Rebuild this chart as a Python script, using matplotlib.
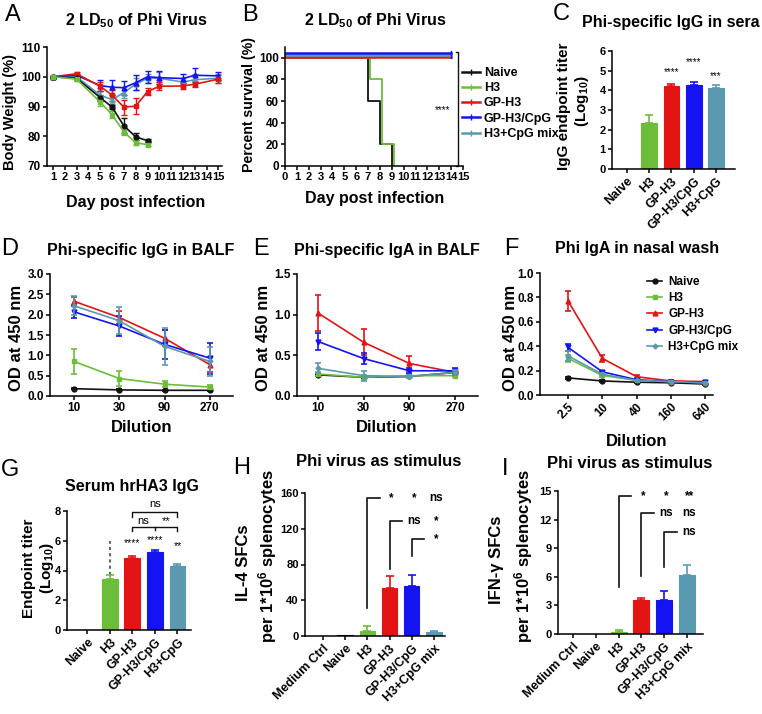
import numpy as np
import matplotlib
matplotlib.use('Agg')
import matplotlib.pyplot as plt
from matplotlib.lines import Line2D

W, H = 762, 714

# ---- data -------------------------------------------------------------
groups5 = ['Naive', 'H3', 'GP-H3', 'GP-H3/CpG', 'H3+CpG mix']
bar_groups = ['Naive', 'H3', 'GP-H3', 'GP-H3/CpG', 'H3+CpG']
stim_groups = ['Medium Ctrl', 'Naive', 'H3', 'GP-H3', 'GP-H3/CpG', 'H3+CpG mix']

# A: body weight
days_short = [1, 3, 5, 6, 7, 8, 9]
days_long = [1, 3, 5, 6, 7, 8, 9, 10, 12, 13, 15]
bw_naive = [100, 99.5, 93.0, 89.8, 83.5, 79.8, 78.5]
bw_naive_err = [0.3, 0.5, 1.0, 0.8, 2.5, 1.2, 0.5]
bw_h3 = [100, 99.2, 91.5, 87.2, 81.5, 77.8, 77.2]
bw_h3_err = [0.3, 0.6, 1.2, 1.2, 1.2, 0.8, 0.5]
bw_gph3 = [100, 101.0, 96.8, 93.8, 89.8, 90.1, 95.0, 96.8, 96.9, 97.5, 99.2]
bw_gph3_err = [0.3, 0.5, 1.5, 1.8, 2.5, 2.7, 1.3, 1.3, 1.0, 1.0, 1.3]
bw_cpg = [100, 100.5, 97.0, 96.5, 96.3, 98.0, 100.0, 99.7, 99.4, 100.5, 100.3]
bw_cpg_err = [0.3, 0.5, 1.8, 2.5, 2.3, 2.5, 2.0, 2.2, 1.5, 2.3, 1.3]
bw_mix = [100, 100.0, 93.8, 92.3, 94.7, 97.5, 99.5, 99.5, 98.2, 99.0, 99.5]
bw_mix_err = [0.3, 0.5, 1.5, 1.5, 2.0, 2.0, 1.5, 2.0, 1.5, 2.0, 1.5]

# B: survival
surv_days_naive = [0, 7, 8, 9]
surv_naive = [100, 60, 20, 0]
surv_days_h3 = [0, 7, 8, 9]
surv_h3 = [100, 80, 20, 0]
surv_days_prot = [0, 14]
surv_gph3 = [100, 100]
surv_cpg = [100, 100]
surv_mix = [100, 100]

# C: serum IgG titer
c_mean = [0, 2.35, 4.2, 4.25, 4.1]
c_err = [0, 0.42, 0.12, 0.18, 0.15]
c_stars = ['', '', '****', '****', '***']

# D/E: BALF dilutions
balf_dil = ['10', '30', '90', '270']
d_naive = [0.18, 0.15, 0.14, 0.14]
d_naive_err = [0.02, 0.01, 0.01, 0.01]
d_h3 = [0.85, 0.43, 0.29, 0.22]
d_h3_err = [0.30, 0.18, 0.07, 0.05]
d_gph3 = [2.33, 1.93, 1.42, 0.77]
d_gph3_err = [0.10, 0.15, 0.20, 0.18]
d_cpg = [2.07, 1.72, 1.27, 0.93]
d_cpg_err = [0.15, 0.25, 0.35, 0.38]
d_mix = [2.22, 1.85, 1.22, 0.85]
d_mix_err = [0.23, 0.33, 0.45, 0.35]

e_naive = [0.26, 0.23, 0.24, 0.29]
e_naive_err = [0.01, 0.01, 0.01, 0.01]
e_h3 = [0.27, 0.23, 0.25, 0.25]
e_h3_err = [0.02, 0.03, 0.02, 0.02]
e_gph3 = [1.02, 0.66, 0.40, 0.29]
e_gph3_err = [0.22, 0.16, 0.09, 0.03]
e_cpg = [0.67, 0.46, 0.31, 0.31]
e_cpg_err = [0.11, 0.07, 0.03, 0.04]
e_mix = [0.34, 0.25, 0.24, 0.29]
e_mix_err = [0.06, 0.06, 0.02, 0.03]

# F: nasal wash
nasal_dil = ['2.5', '10', '40', '160', '640']
f_naive = [0.14, 0.115, 0.105, 0.10, 0.09]
f_naive_err = [0.005, 0.005, 0.005, 0.005, 0.005]
f_h3 = [0.30, 0.16, 0.12, 0.11, 0.10]
f_h3_err = [0.03, 0.01, 0.005, 0.005, 0.005]
f_gph3 = [0.77, 0.30, 0.15, 0.115, 0.11]
f_gph3_err = [0.08, 0.03, 0.01, 0.005, 0.005]
f_cpg = [0.39, 0.19, 0.125, 0.11, 0.105]
f_cpg_err = [0.03, 0.01, 0.005, 0.005, 0.005]
f_mix = [0.32, 0.17, 0.12, 0.11, 0.10]
f_mix_err = [0.04, 0.01, 0.005, 0.005, 0.005]

# G: serum hrHA3 IgG
g_mean = [0, 3.45, 4.85, 5.27, 4.33]
g_err = [0, 0.25, 0.10, 0.12, 0.13]
g_stars = ['', '', '****', '****', '**']

# H / I: ELISpot
h_mean = [0, 0.8, 6, 54, 56, 4]
h_err = [0, 0, 5, 13, 12, 2]
i_mean = [0, 0, 0.2, 3.55, 3.55, 6.2]
i_err = [0, 0, 0.25, 0.25, 1.0, 1.0]

# ---- style ------------------------------------------------------------
plt.rcParams['font.family'] = ['Liberation Sans', 'DejaVu Sans']
plt.rcParams['font.weight'] = 'bold'
plt.rcParams['mathtext.fontset'] = 'custom'
plt.rcParams['mathtext.bf'] = 'Liberation Sans:bold'
plt.rcParams['mathtext.rm'] = 'Liberation Sans:bold'
plt.rcParams['mathtext.default'] = 'bf'
plt.rcParams['axes.linewidth'] = 1.1
for k in ['xtick', 'ytick']:
    plt.rcParams[k + '.major.width'] = 1.1
    plt.rcParams[k + '.major.size'] = 3
    plt.rcParams[k + '.major.pad'] = 1.5
    plt.rcParams[k + '.labelsize'] = 8.5

BLACK = '#111111'
GREEN = '#6CBE3A'
RED = '#E31414'
BLUE = '#1414F2'
TEAL = '#5B99B1'
colors5 = [BLACK, GREEN, RED, BLUE, TEAL]
markers5 = ['o', 's', '^', 'v', 'D']
TITLE = 11.5

fig = plt.figure(figsize=(W / 100, H / 100), dpi=100)


def add_ax(l, r, b, t):
    ax = fig.add_axes([l / W, 1 - b / H, (r - l) / W, (b - t) / H])
    ax.spines['top'].set_visible(False)
    ax.spines['right'].set_visible(False)
    return ax


def ftext(x, y, s, **kw):
    fig.text(x / W, 1 - y / H, s, ha='center', va='center', **kw)


def letter(x, y, s):
    ftext(x, y, s, fontsize=17, fontweight='normal')


def dil_panel(ax, series, errs, labels):
    x = np.arange(len(labels))
    for i, (vals, err) in enumerate(zip(series, errs)):
        ax.errorbar(x, vals, yerr=err, color=colors5[i], marker=markers5[i],
                    ms=3.5 if markers5[i] != 'D' else 2.5, lw=1.2,
                    elinewidth=1.2, capsize=2, capthick=1.2, zorder=3 + i)
    ax.set_xticks(x)
    ax.set_xticklabels(labels)


def bar_panel(ax, labels, vals, errs, cols):
    x = np.arange(len(labels))
    ax.bar(x, vals, 0.7, color=cols, edgecolor=cols, lw=0.8, zorder=2)
    for xi, v, e, c in zip(x, vals, errs, cols):
        if e > 0:
            ax.errorbar(xi, v, yerr=[[0], [e]], color=c, capsize=3,
                        elinewidth=1.2, capthick=1.2, zorder=3)
    ax.set_xticks(x)
    ax.set_xticklabels(labels, rotation=45, ha='right', rotation_mode='anchor',
                       fontsize=9)
    ax.tick_params(axis='y', labelsize=8)


# ---- A -----------------------------------------------------------------
ax = add_ax(47, 222, 166, 47)
for d, v, e, c, m in [(days_long, bw_mix, bw_mix_err, TEAL, '^'),
                      (days_long, bw_cpg, bw_cpg_err, BLUE, '^'),
                      (days_long, bw_gph3, bw_gph3_err, RED, 's'),
                      (days_short, bw_naive, bw_naive_err, BLACK, 'o'),
                      (days_short, bw_h3, bw_h3_err, GREEN, 's')]:
    ax.errorbar(d, v, yerr=e, color=c, marker=m, ms=3.5, lw=1.2,
                elinewidth=1, capsize=2, capthick=1)
ax.set_xlim(0.5, 15.3)
ax.set_ylim(70, 110)
ax.set_xticks(range(1, 16))
ax.set_yticks(range(70, 111, 10))
ax.tick_params(axis='x', labelsize=8)
ftext(136, 21, '2 LD$_{50}$ of Phi Virus', fontsize=TITLE)
ftext(10, 112, 'Body Weight (%)', fontsize=10.5, rotation=90)
ftext(136, 202, 'Day post infection', fontsize=11.5)
letter(13, 15, 'A')

# ---- B -----------------------------------------------------------------
ax = add_ax(285, 463, 166, 47)
offset = {'GP-H3': 0.8, 'GP-H3/CpG': 4.8, 'H3+CpG mix': 2.6}
ax.step(surv_days_naive + [9.0], surv_naive + [0], where='post', color=BLACK, lw=1.3)
ax.step(np.array(surv_days_h3 + [9.0]) + 0.2, surv_h3 + [0], where='post',
        color=GREEN, lw=1.3)
ax.step(surv_days_prot, np.array(surv_gph3) + offset['GP-H3'], where='post',
        color=RED, lw=1.8)
ax.step(surv_days_prot, np.array(surv_mix) + offset['H3+CpG mix'], where='post',
        color=TEAL, lw=1.8)
ax.step(surv_days_prot, np.array(surv_cpg) + offset['GP-H3/CpG'], where='post',
        color=BLUE, lw=1.8)
ax.plot([14, 14], [100, 106], color=BLUE, lw=1)
ax.set_xlim(0, 15)
ax.set_ylim(0, 110)
ax.set_xticks(range(0, 16))
ax.set_yticks(range(0, 101, 20))
ax.tick_params(axis='x', labelsize=8)
ax.plot([14.45, 14.6, 14.6, 14.45], [105, 105, 0, 0], color=BLACK, lw=1,
        clip_on=False)
ax.text(13.3, 52, '****', ha='center', va='center', fontsize=7,
        fontweight='normal')
handles = [Line2D([], [], color=c, lw=1.8, marker='|', ms=4, mew=1)
           for c in colors5]
ax.legend(handles, groups5, loc='upper left',
          bbox_to_anchor=(462 / W, 1 - 67 / H), bbox_transform=fig.transFigure,
          frameon=False, fontsize=9, handlelength=1.4, handletextpad=0.35,
          labelspacing=0.26, borderpad=0, borderaxespad=0)
ftext(375, 21, '2 LD$_{50}$ of Phi Virus', fontsize=TITLE)
ftext(249, 105, 'Percent survival (%)', fontsize=10.2, rotation=90)
ftext(375, 198, 'Day post infection', fontsize=11.5)
letter(250, 15, 'B')

# ---- C -----------------------------------------------------------------
ax = add_ax(612, 735, 169, 51)
bar_panel(ax, bar_groups, c_mean, c_err, colors5)
ax.set_xlim(-0.67, 4.85)
ax.set_ylim(0, 6)
ax.set_yticks(range(0, 7))
for xi, (s, y) in enumerate(zip(c_stars, [0, 0, 4.95, 5.45, 4.72])):
    if s:
        ax.text(xi, y, s, ha='center', va='center', fontsize=7,
                fontweight='normal')
ftext(671, 23, 'Phi-specific IgG in sera', fontsize=TITLE)
ftext(564, 106, 'IgG endpoint titer', fontsize=11, rotation=90)
ftext(582, 101, '(Log$_{10}$)', fontsize=11, rotation=90)
letter(561, 14, 'C')

# ---- D -----------------------------------------------------------------
ax = add_ax(50, 233, 396, 274)
dil_panel(ax, [d_naive, d_h3, d_gph3, d_cpg, d_mix],
          [d_naive_err, d_h3_err, d_gph3_err, d_cpg_err, d_mix_err], balf_dil)
ax.set_xlim(-0.53, 3.51)
ax.set_ylim(0, 3.0)
ax.set_yticks(np.arange(0, 3.01, 0.5))
ax.yaxis.set_major_formatter('{x:.1f}')
ftext(141, 251, 'Phi-specific IgG in BALF', fontsize=TITLE)
ftext(17, 338, 'OD at 450 nm', fontsize=12, rotation=90)
ftext(142, 427, 'Dilution', fontsize=12)
letter(10, 249, 'D')

# ---- E -----------------------------------------------------------------
ax = add_ax(297, 478, 396, 274)
dil_panel(ax, [e_naive, e_h3, e_gph3, e_cpg, e_mix],
          [e_naive_err, e_h3_err, e_gph3_err, e_cpg_err, e_mix_err], balf_dil)
ax.set_xlim(-0.46, 3.5)
ax.set_ylim(0, 1.5)
ax.set_yticks([0, 0.5, 1.0, 1.5])
ax.yaxis.set_major_formatter('{x:.1f}')
ftext(387, 251, 'Phi-specific IgA in BALF', fontsize=TITLE)
ftext(264, 338, 'OD at 450 nm', fontsize=12, rotation=90)
ftext(387, 427, 'Dilution', fontsize=12)
letter(261, 249, 'E')

# ---- F -----------------------------------------------------------------
ax = add_ax(540, 713, 395, 273)
dil_panel(ax, [f_naive, f_h3, f_gph3, f_cpg, f_mix],
          [f_naive_err, f_h3_err, f_gph3_err, f_cpg_err, f_mix_err], nasal_dil)
ax.set_xlim(-0.82, 4.23)
ax.set_ylim(0, 1.0)
ax.set_yticks(np.arange(0, 1.01, 0.2))
ax.yaxis.set_major_formatter('{x:.1f}')
plt.setp(ax.get_xticklabels(), rotation=45, ha='right', rotation_mode='anchor')
fh = [Line2D([], [], color=c, marker=m, ms=3.5 if m != 'D' else 2.5, lw=1.2)
      for c, m in zip(colors5, markers5)]
ax.legend(fh, groups5, loc='upper left',
          bbox_to_anchor=(647 / W, 1 - 276 / H), bbox_transform=fig.transFigure,
          frameon=False, fontsize=8.5, handlelength=1.3, handletextpad=0.5,
          labelspacing=0.36, borderpad=0, borderaxespad=0)
ftext(637, 248, 'Phi IgA in nasal wash', fontsize=TITLE)
ftext(511, 338, 'OD at 450 nm', fontsize=12, rotation=90)
ftext(637, 442, 'Dilution', fontsize=12)
letter(511, 249, 'F')

# ---- G -----------------------------------------------------------------
ax = add_ax(67, 191, 630, 511)
bar_panel(ax, bar_groups, g_mean, g_err, colors5)
ax.set_xlim(-0.89, 4.6)
ax.set_ylim(0, 8)
ax.set_yticks(range(0, 9, 2))
ax.plot([1, 1], [g_mean[1] + g_err[1], 6.0], ls=(0, (1.5, 1.5)), color='#666666',
        lw=1.5)
for xi, (s, y) in enumerate(zip(g_stars, [0, 0, 5.86, 6.04, 5.64])):
    if s:
        ax.text(xi, y, s, ha='center', va='center', fontsize=7.5,
                fontweight='normal')
ax.plot([2, 2, 4, 4], [7.6, 7.92, 7.92, 7.6], color=BLACK, lw=1, clip_on=False)
ax.text(3, 8.5, 'ns', ha='center', va='center', fontsize=8,
        fontweight='normal', clip_on=False)
ax.plot([2, 2, 4, 4], [6.65, 6.9, 6.9, 6.65], color=BLACK, lw=1, clip_on=False)
ax.plot([3, 3], [6.9, 6.7], color=BLACK, lw=1, clip_on=False)
ax.text(2.5, 7.3, 'ns', ha='center', va='center', fontsize=8,
        fontweight='normal', clip_on=False)
ax.text(3.5, 7.3, '**', ha='center', va='center', fontsize=8,
        fontweight='normal', clip_on=False)
ftext(132, 487, 'Serum hrHA3 IgG', fontsize=TITLE)
ftext(29, 568, 'Endpoint titer', fontsize=11, rotation=90)
ftext(47, 568, '(Log$_{10}$)', fontsize=11, rotation=90)
letter(10, 470, 'G')


def brackets(ax, specs, fs):
    # specs: (start index, low, top, labels)
    for i0, lo, top, labs in specs:
        ax.plot([i0, i0, i0 + 0.55], [lo, top, top], color=BLACK, lw=1.2,
                clip_on=False)
        for k, s in enumerate(labs):
            ax.text(i0 + 1 + k + 0.1, top, s, ha='center', va='center',
                    fontsize=fs, clip_on=False)


# ---- H -----------------------------------------------------------------
stim_cols = [BLACK, BLACK, GREEN, RED, BLUE, TEAL]
ax = add_ax(305, 445, 636, 493)
bar_panel(ax, stim_groups, h_mean, h_err, stim_cols)
ax.set_xlim(-0.81, 5.5)
ax.set_ylim(0, 160)
ax.set_yticks(range(0, 161, 40))
brackets(ax, [(2, 31, 154, ['*', '*', 'ns']),
              (3, 75, 129, ['ns', '*']),
              (4, 90, 108, ['*'])], 8.5)
ftext(379, 462, 'Phi virus as stimulus', fontsize=12)
ftext(243, 563, 'IL-4 SFCs', fontsize=12, rotation=90)
ftext(268, 556, 'per 1*10$^6$ splenocytes', fontsize=12, rotation=90)
letter(242, 468, 'H')

# ---- I -----------------------------------------------------------------
ax = add_ax(558, 703, 634, 491)
bar_panel(ax, stim_groups, i_mean, i_err, stim_cols)
ax.set_xlim(-0.66, 5.7)
ax.set_ylim(0, 15)
ax.set_yticks(range(0, 16, 3))
brackets(ax, [(2, 4.9, 14.45, ['*', '*', '**']),
              (3, 6.1, 12.7, ['ns', 'ns']),
              (4, 7.05, 10.7, ['ns'])], 8.5)
ftext(630, 464, 'Phi virus as stimulus', fontsize=12)
ftext(497, 560, 'IFN-\u03b3 SFCs', fontsize=12, rotation=90)
ftext(524, 556, 'per 1*10$^6$ splenocytes', fontsize=12, rotation=90)
letter(505, 469, 'I')

fig.savefig('out.png', dpi=100)
